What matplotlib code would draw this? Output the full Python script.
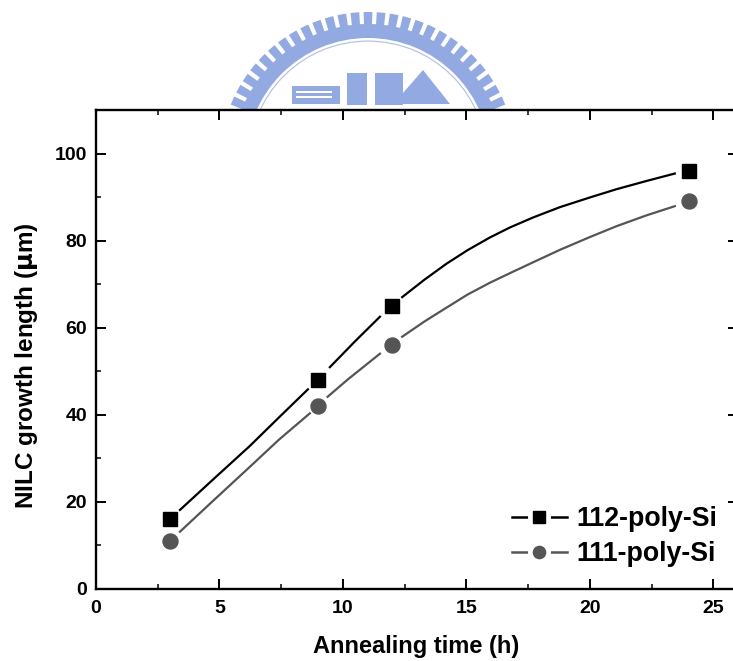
import matplotlib
matplotlib.use('Agg')
import matplotlib.pyplot as plt
from matplotlib.lines import Line2D
from matplotlib.legend_handler import HandlerTuple
from matplotlib.patches import Wedge, Rectangle, Polygon

plt.rcParams['font.family'] = ['Liberation Sans', 'DejaVu Sans']
plt.rcParams['font.weight'] = 'bold'

# measured points
time_pts = [3, 9, 12, 24]
len_112 = [16, 48, 65, 96]
len_111 = [11, 42, 56, 89]

# curves, None = gap round a marker
curve_112_x = [3.4, 4.8, 6.23, 7.4, 8.58, None, 9.47, 10.5, 11.5, None, 12.4, 13.3, 14.2, 15.05,
               15.95, 16.76, 17.7, 18.8, 20.0, 21.08, 22.3, 23.44]
curve_112_y = [18.1, 25.4, 32.8, 39.3, 45.8, None, 50.9, 56.9, 62.5, None, 67.0, 71.0, 74.7, 77.8,
               80.7, 83.0, 85.3, 87.7, 89.9, 91.8, 93.7, 95.4]
curve_111_x = [3.4, 4.8, 6.23, 7.4, 8.66, None, 9.38, 10.2, 11.5, None, 12.4, 13.3, 14.2, 15.05,
               15.95, 16.76, 17.7, 18.8, 20.0, 21.08, 22.3, 23.44]
curve_111_y = [13.1, 20.5, 28.0, 34.2, 40.3, None, 44.1, 48.1, 54.0, None, 57.9, 61.4, 64.6, 67.6,
               70.3, 72.5, 75.0, 77.9, 80.8, 83.3, 85.8, 87.9]

x_ticks = [0, 5, 10, 15, 20, 25]
y_ticks = [0, 20, 40, 60, 80, 100]
x_minor = [2.5, 7.5, 12.5, 17.5, 22.5]
y_minor = [10, 30, 50, 70, 90, 110]

BLACK = '#000000'
GRAY = '#555555'
LOGO = '#93a9e2'

fig = plt.figure(figsize=(7.33, 6.61), dpi=100)

# watermark behind the plot, in pixel coordinates
bg = fig.add_axes([0, 0, 1, 1], zorder=0)
bg.set_xlim(0, 733)
bg.set_ylim(661, 0)
bg.axis('off')
cx, cy = 368, 160
bg.add_patch(Wedge((cx, cy), 136, 0, 360, width=14, color=LOGO, lw=0))
bg.add_patch(Wedge((cx, cy), 119.5, 0, 360, width=1.2, color='#b4c2e6', lw=0))
for i in range(-15, 16):
    ang = -90 + i * 5.1
    bg.add_patch(Wedge((cx, cy), 148, ang - 1.7, ang + 1.7, width=14, color=LOGO, lw=0))
bg.add_patch(Rectangle((292, 86), 48, 18, color=LOGO, lw=0))
bg.add_patch(Rectangle((296, 91), 36, 1.5, color='white', lw=0))
bg.add_patch(Rectangle((296, 96), 36, 1.5, color='white', lw=0))
bg.add_patch(Rectangle((347, 73), 20, 32, color=LOGO, lw=0))
bg.add_patch(Rectangle((375, 73), 28, 32, color=LOGO, lw=0))
bg.add_patch(Polygon([(403, 93), (423, 70), (450, 104), (403, 104)], color=LOGO, lw=0))

ax = fig.add_axes([96 / 733, 72.3 / 661, 642 / 733, 478.7 / 661], zorder=1)

ax.plot(curve_112_x, curve_112_y, color=BLACK, lw=1.6)
ax.plot(curve_111_x, curve_111_y, color=GRAY, lw=1.6)
ax.plot(time_pts, len_112, ls='none', marker='s', ms=10.2, color=BLACK, clip_on=False)
ax.plot(time_pts, len_111, ls='none', marker='o', ms=10.8, color=GRAY, clip_on=False)

ax.set_xlim(0, 26)
ax.set_ylim(0, 110)
ax.set_xticks(x_ticks)
ax.set_yticks(y_ticks)
ax.set_xticks(x_minor, minor=True)
ax.set_yticks(y_minor, minor=True)
ax.tick_params(which='major', direction='in', length=7.2, width=1.4, top=True, right=True,
               labelsize=14, pad=8)
ax.tick_params(axis='y', which='major', pad=6.5)
ax.tick_params(which='minor', direction='in', length=3.6, width=1.1, top=True, right=True)
for side in ax.spines:
    ax.spines[side].set_linewidth(1.7)

fig.text(416 / 733, 1 - 646 / 661, 'Annealing time (h)', fontsize=17, ha='center', va='center')
fig.text(27 / 733, 1 - 366 / 661, r'NILC growth length ($\mathrm{\mu}$m)', fontsize=17.5,
         rotation=90, ha='center', va='center')

# legend handles: white blob under the marker breaks the line
h_112 = (Line2D([], [], color=BLACK, lw=1.8, marker='o', ms=15.5, mfc='white', mec='white'),
         Line2D([], [], ls='none', marker='s', ms=8, color=BLACK))
h_111 = (Line2D([], [], color=GRAY, lw=1.8, marker='o', ms=15.5, mfc='white', mec='white'),
         Line2D([], [], ls='none', marker='o', ms=8.8, color=GRAY))
leg = ax.legend([h_112, h_111], ['112-poly-Si', '111-poly-Si'],
                handler_map={tuple: HandlerTuple(ndivide=1, pad=0)},
                loc='lower left', bbox_to_anchor=(416 / 642, 21.5 / 478.7), borderaxespad=0,
                borderpad=0, frameon=False, fontsize=19.3, handlelength=2.05, handletextpad=0.34,
                labelspacing=0.34, numpoints=1)

fig.savefig('out.png', dpi=100)
